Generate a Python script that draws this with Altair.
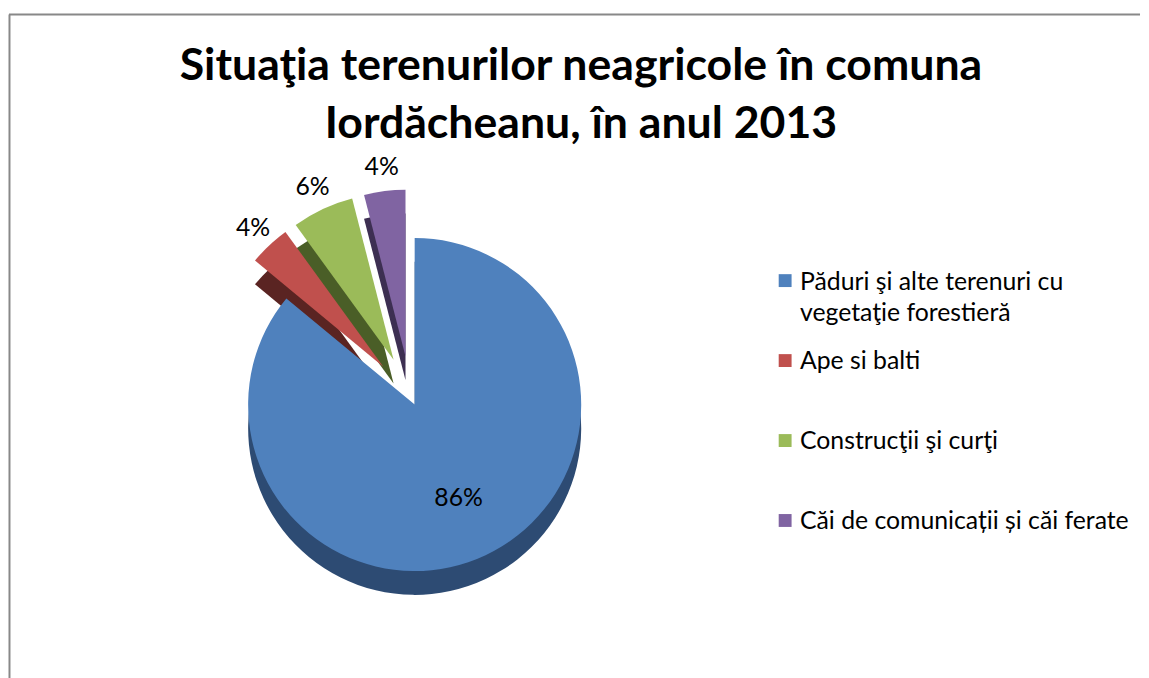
import altair as alt
import pandas as pd

# ---- data ----
categories = [
    "Păduri şi alte terenuri cu vegetaţie forestieră",
    "Ape si balti",
    "Construcţii şi curţi",
    "Căi de comunicații și căi ferate",
]
percent = [86, 4, 6, 4]
title_lines = ["Situaţia terenurilor neagricole în comuna", "Iordăcheanu, în anul 2013"]

# ---- style ----
colors_top = ["#4f81bd", "#c0504d", "#9bbb59", "#8064a2"]
colors_side = ["#2d4b73", "#5a2422", "#4a5e27", "#3d2f52"]
FONT = "Lato"
W, H = 1135, 662
CX, CY, R, DEPTH = 405, 388, 168, 24

df = pd.DataFrame({"cat": categories, "pct": percent, "order": list(range(len(categories)))})

base = (
    alt.Chart(df)
    .transform_joinaggregate(total="sum(pct)")
    .transform_window(cum="sum(pct)", sort=[alt.SortField("order")], frame=[None, 0])
    .transform_calculate(
        start="2*PI*(datum.cum - datum.pct)/datum.total",
        end="2*PI*datum.cum/datum.total",
        mid="2*PI*(datum.cum - datum.pct/2)/datum.total",
    )
    .transform_calculate(
        ex="datum.pct < 10 ? 40 : 10",
        lr="datum.pct < 10 ? %d : %f" % (R + 24, R * 0.62),
    )
    .transform_calculate(
        px=f"{CX} + datum.ex*sin(datum.mid)",
        py=f"{CY} - datum.ex*cos(datum.mid)",
        pys=f"{CY} + {DEPTH} - datum.ex*cos(datum.mid)",
    )
    .transform_calculate(
        lx="datum.px + datum.lr*sin(datum.mid)",
        ly="datum.py - datum.lr*cos(datum.mid)",
        label="format(datum.pct, 'd') + '%'",
    )
)

side = base.mark_arc(outerRadius=R).encode(
    x=alt.X("px:Q", scale=None, axis=None),
    y=alt.Y("pys:Q", scale=None, axis=None),
    theta=alt.Theta("start:Q", scale=None),
    theta2="end:Q",
    color=alt.Color("cat:N", scale=alt.Scale(domain=categories, range=colors_side), legend=None),
)

top = base.mark_arc(outerRadius=R).encode(
    x=alt.X("px:Q", scale=None, axis=None),
    y=alt.Y("py:Q", scale=None, axis=None),
    theta=alt.Theta("start:Q", scale=None),
    theta2="end:Q",
    color=alt.Color("cat:N", scale=alt.Scale(domain=categories, range=colors_top), legend=None),
)

labels = base.mark_text(font=FONT, fontSize=25, color="#000000").encode(
    x=alt.X("lx:Q", scale=None, axis=None),
    y=alt.Y("ly:Q", scale=None, axis=None),
    text="label:N",
)

leg_sq = alt.Chart(df).mark_square(size=169, opacity=1).encode(
    x=alt.value(783),
    y=alt.Y("cat:N", sort=categories, scale=alt.Scale(type="point", range=[272, 514], padding=0), axis=None),
    color=alt.Color("cat:N", scale=alt.Scale(domain=categories, range=colors_top), legend=None),
)

leg_tx = (
    alt.Chart(df)
    .transform_calculate(disp="replace(datum.cat, 'cu ', 'cu\\n')")
    .mark_text(font=FONT, fontSize=25, align="left", baseline="alphabetic", dy=9, lineBreak="\n", lineHeight=32, color="#000000")
    .encode(
        x=alt.value(798),
        y=alt.Y("cat:N", sort=categories, scale=alt.Scale(type="point", range=[272, 514], padding=0), axis=None),
        text="disp:N",
    )
)

title = alt.Chart(pd.DataFrame({"t": [0]})).mark_text(
    text=title_lines, font=FONT, fontSize=45, fontWeight="bold", align="center",
    baseline="alphabetic", lineHeight=58, color="#000000",
).encode(x=alt.value(577), y=alt.value(70))

border_top = alt.Chart(pd.DataFrame({"t": [0]})).mark_rule(color="#888888", strokeWidth=2).encode(
    x=alt.value(0), x2=alt.value(1141), y=alt.value(3.5)
)
border_left = alt.Chart(pd.DataFrame({"t": [0]})).mark_rule(color="#888888", strokeWidth=2).encode(
    x=alt.value(0.5), y=alt.value(3.5), y2=alt.value(H + 20)
)

chart = (
    alt.layer(border_top, border_left, title, side, top, labels, leg_sq, leg_tx)
    .resolve_scale(color="independent", y="independent", x="independent")
    .properties(width=W, height=H, padding=0)
    .configure_view(stroke=None)
)

chart.save("out.html", embed_options={"renderer": "svg", "actions": False})
